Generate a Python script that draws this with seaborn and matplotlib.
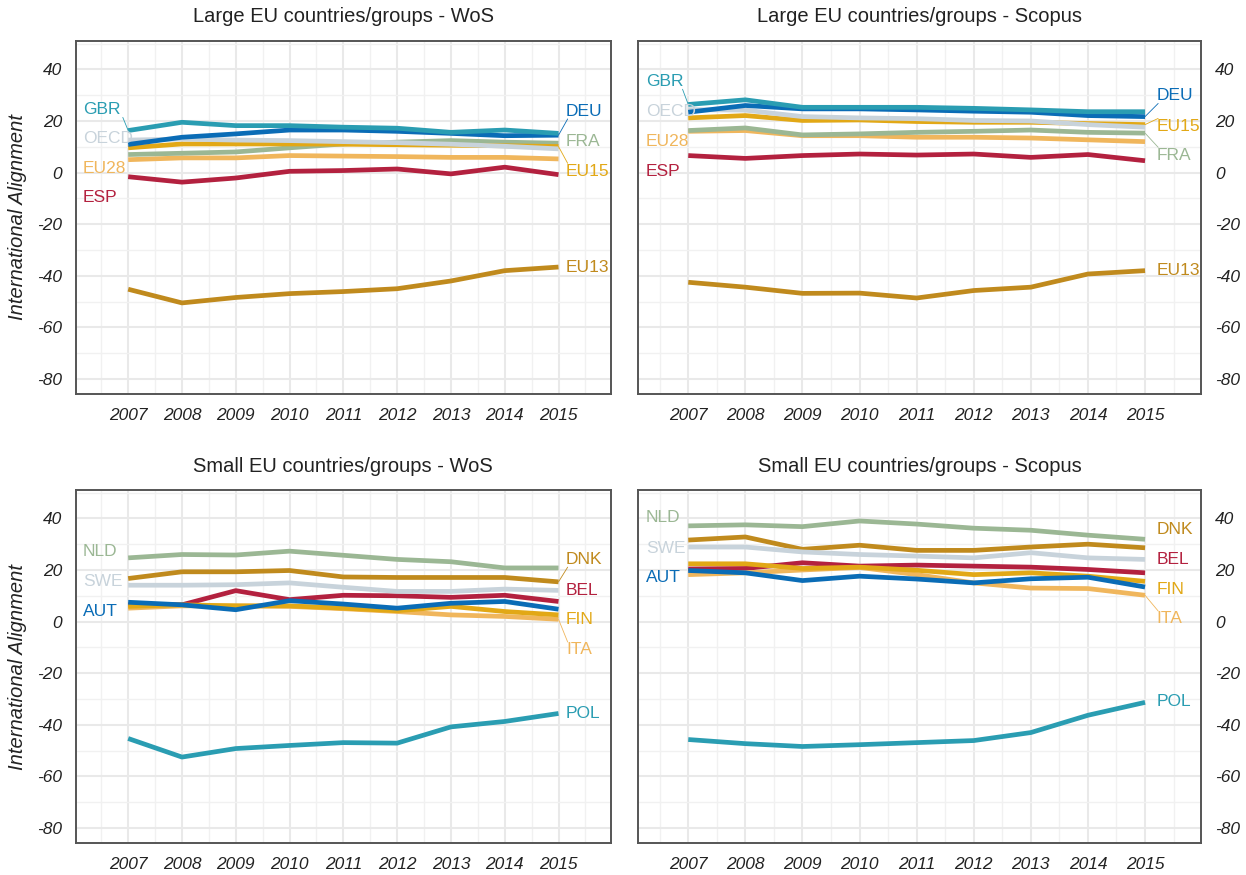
import numpy as np
import pandas as pd
import matplotlib
matplotlib.use("Agg")
import matplotlib.pyplot as plt
import seaborn as sns

# ---------------- data ----------------
years = [2007, 2008, 2009, 2010, 2011, 2012, 2013, 2014, 2015]

# Large EU countries/groups - WoS
wos_large = {
    "GBR":  [16.3, 19.5, 18.2, 18.2, 17.6, 17.2, 15.6, 16.5, 15.2],
    "DEU":  [10.9, 13.7, 15.0, 16.5, 16.5, 16.0, 15.2, 14.3, 14.5],
    "OECD": [12.6, 13.0, 12.6, 12.4, 12.0, 11.6, 11.0, 10.2, 9.2],
    "EU15": [9.6, 11.1, 11.1, 11.1, 11.0, 10.8, 10.6, 10.4, 10.1],
    "FRA":  [7.0, 7.5, 8.0, 9.6, 11.1, 11.8, 12.4, 11.8, 11.4],
    "EU28": [5.0, 5.7, 5.7, 6.6, 6.4, 6.2, 5.9, 5.9, 5.3],
    "ESP":  [-1.6, -3.7, -2.1, 0.5, 0.8, 1.4, -0.5, 2.1, -0.8],
    "EU13": [-45.2, -50.5, -48.4, -46.9, -46.1, -45.0, -42.0, -38.0, -36.6],
}
# Large EU countries/groups - Scopus
scopus_large = {
    "GBR":  [26.4, 28.2, 25.3, 25.3, 25.3, 24.9, 24.3, 23.6, 23.6],
    "DEU":  [23.4, 26.0, 24.7, 24.7, 24.3, 23.8, 23.4, 22.1, 21.7],
    "OECD": [24.4, 24.2, 21.7, 21.2, 20.9, 20.2, 20.0, 18.6, 17.6],
    "EU15": [21.2, 22.1, 20.2, 20.4, 19.8, 19.5, 19.5, 19.0, 18.6],
    "FRA":  [16.3, 17.3, 14.6, 15.0, 15.6, 16.0, 16.5, 15.6, 15.3],
    "EU28": [16.0, 16.3, 14.3, 14.3, 13.7, 13.7, 13.4, 12.7, 12.0],
    "ESP":  [6.6, 5.5, 6.6, 7.2, 6.8, 7.2, 5.9, 7.0, 4.6],
    "EU13": [-42.5, -44.4, -46.8, -46.7, -48.6, -45.7, -44.4, -39.3, -38.0],
}
# Small EU countries/groups - WoS
wos_small = {
    "POL": [-45.3, -52.5, -49.2, -48.0, -46.9, -47.1, -40.8, -38.7, -35.6],
    "AUT": [7.5, 6.5, 4.6, 8.1, 6.8, 5.2, 7.1, 7.8, 4.8],
    "SWE": [14.1, 14.1, 14.3, 15.0, 13.3, 11.7, 11.7, 12.6, 12.1],
    "FIN": [5.9, 6.5, 6.1, 6.1, 5.2, 4.2, 5.9, 3.9, 2.6],
    "NLD": [24.7, 26.0, 25.8, 27.3, 25.7, 24.1, 23.2, 20.8, 20.8],
    "ITA": [5.2, 6.1, 6.1, 5.9, 5.0, 3.9, 2.6, 2.0, 0.9],
    "BEL": [6.5, 6.5, 12.0, 8.5, 10.2, 10.0, 9.4, 10.2, 7.8],
    "DNK": [16.7, 19.3, 19.3, 19.8, 17.3, 17.1, 17.1, 17.1, 15.4],
}
# Small EU countries/groups - Scopus
scopus_small = {
    "POL": [-45.7, -47.3, -48.4, -47.7, -46.9, -46.1, -43.0, -36.3, -31.3],
    "AUT": [19.8, 18.9, 15.9, 17.6, 16.5, 15.0, 16.6, 17.2, 13.4],
    "SWE": [28.9, 28.9, 27.0, 26.0, 25.4, 24.7, 26.7, 24.7, 24.1],
    "FIN": [22.4, 22.4, 20.6, 21.1, 19.9, 18.2, 18.9, 17.6, 15.6],
    "NLD": [37.1, 37.5, 36.8, 39.0, 37.8, 36.2, 35.4, 33.5, 31.9],
    "ITA": [18.2, 18.9, 20.0, 21.0, 18.2, 15.0, 13.0, 12.8, 10.2],
    "BEL": [20.4, 20.6, 22.8, 21.5, 21.9, 21.5, 21.1, 20.2, 18.9],
    "DNK": [31.6, 32.8, 28.0, 29.6, 27.6, 27.6, 28.9, 30.0, 28.6],
}

titles = ["Large EU countries/groups - WoS", "Large EU countries/groups - Scopus",
          "Small EU countries/groups - WoS", "Small EU countries/groups - Scopus"]
y_ticks = [-80, -60, -40, -20, 0, 20, 40]
y_label = "International Alignment"

large_names = ["GBR", "DEU", "OECD", "EU15", "FRA", "EU28", "ESP", "EU13"]
small_names = ["POL", "AUT", "SWE", "FIN", "NLD", "ITA", "BEL", "DNK"]
line_colors = ["#2a9db2", "#0a6cb6", "#c8d3db", "#e2a816", "#9bb794",
               "#f0b65c", "#b3213f", "#c08a1d"]
draw_rank = [7, 6, 5, 4, 3, 2, 1, 0]  # GBR/POL on top

# label positions (text anchors) per panel
left_labels = [
    {"GBR": 24.4, "OECD": 13.2, "EU28": 1.7, "ESP": -9.7},
    {"GBR": 35.3, "OECD": 23.6, "EU28": 12.2, "ESP": 0.6},
    {"NLD": 27.0, "SWE": 15.5, "AUT": 4.0},
    {"NLD": 40.2, "SWE": 28.3, "AUT": 17.0},
]
right_labels = [
    {"DEU": 23.8, "FRA": 12.2, "EU15": 0.6, "EU13": -36.8},
    {"DEU": 29.8, "EU15": 18.0, "FRA": 6.8, "EU13": -37.8},
    {"DNK": 24.1, "BEL": 12.2, "FIN": 0.7, "ITA": -10.9, "POL": -35.8},
    {"DNK": 35.5, "BEL": 23.9, "FIN": 12.4, "ITA": 1.1, "POL": -31.1},
]
leaders = [{"GBR", "DEU", "EU15"}, {"GBR", "DEU", "FRA", "EU15"},
           {"DNK", "ITA"}, {"ITA"}]

# ---------------- style ----------------
sns.set_theme(style="white")
plt.rcParams['font.family'] = ['Liberation Sans', 'DejaVu Sans']

W, H = 1246, 875
fig = plt.figure(figsize=(W / 100, H / 100), dpi=100)

rects_px = [(76, 41, 610.7, 394), (638, 41, 1201, 394),
            (76, 490, 610.7, 843), (638, 490, 1201, 843)]
xlims = [(2006.03, 2015.97), (2006.12, 2015.98), (2006.03, 2015.97), (2006.12, 2015.98)]
left_x = [2006.16, 2006.26, 2006.16, 2006.26]
right_x = [2015.14, 2015.2, 2015.14, 2015.2]

datasets = [wos_large, scopus_large, wos_small, scopus_small]
name_sets = [large_names, large_names, small_names, small_names]

for i, (data, names) in enumerate(zip(datasets, name_sets)):
    x0, y0, x1, y1 = rects_px[i]
    ax = fig.add_axes([x0 / W, 1 - y1 / H, (x1 - x0) / W, (y1 - y0) / H])
    pal = {n: c for n, c in zip(names, line_colors)}
    order = [n for _, n in sorted(zip(draw_rank, names))]
    df = pd.DataFrame([{"year": yr, "value": v, "country": n}
                       for n in names for yr, v in zip(years, data[n])])
    sns.lineplot(data=df, x="year", y="value", hue="country", hue_order=order,
                 palette=pal, linewidth=3.4, legend=False, ax=ax, sort=False,
                 solid_capstyle="butt", solid_joinstyle="round")

    ax.set_xticks(years)
    ax.set_xticks(np.arange(2006.5, 2016.0, 1.0), minor=True)
    ax.set_yticks(y_ticks)
    ax.set_yticks(np.arange(-90, 51, 20), minor=True)
    ax.set_xlim(*xlims[i])
    ax.set_ylim(-85.8, 51)
    ax.set_xticklabels([str(y) for y in years], fontstyle="italic", fontsize=12.5,
                       color="#222222")
    ax.set_yticklabels([str(t) for t in y_ticks], fontstyle="italic", fontsize=12.5,
                       color="#222222")
    ax.tick_params(which="both", length=0, pad=10)
    ax.grid(which="major", color="#e9e9e9", linewidth=1.5, zorder=0)
    ax.grid(which="minor", color="#f1f1f1", linewidth=1.0, zorder=0)
    ax.set_axisbelow(True)
    ax.set_xlabel("")
    ax.set_ylabel("")
    for sp in ax.spines.values():
        sp.set_visible(True)
        sp.set_color("#555555")
        sp.set_linewidth(1.4)
    if i % 2 == 1:
        ax.yaxis.tick_right()

    # labels
    for n, ly in left_labels[i].items():
        c = pal[n]
        ax.text(left_x[i], ly, n, color=c, fontsize=12.5, ha="left", va="center", zorder=5)
        if n in leaders[i]:
            v = data[n][0]
            sgn = 1 if v > ly else -1
            ax.plot([years[0], years[0] - 0.1], [v, ly + sgn * 3.0], color=c,
                    linewidth=0.6, zorder=4)
    for n, ly in right_labels[i].items():
        c = pal[n]
        ax.text(right_x[i], ly, n, color=c, fontsize=12.5, ha="left", va="center", zorder=5)
        if n in leaders[i]:
            v = data[n][-1]
            sgn = 1 if v > ly else -1
            ax.plot([years[-1], right_x[i] + 0.03], [v, ly + sgn * 3.0], color=c,
                    linewidth=0.6, zorder=4)

    # title
    fig.text(((x0 + x1) / 2) / W, 1 - (y0 - 24) / H, titles[i], ha="center",
             va="center", fontsize=14.5, color="#222222")
    if i % 2 == 0:
        fig.text(18 / W, 1 - ((y0 + y1) / 2) / H, y_label, rotation=90, ha="center",
                 va="center", fontsize=14.5, fontstyle="italic", color="#222222")

fig.savefig("out.png", dpi=100)
